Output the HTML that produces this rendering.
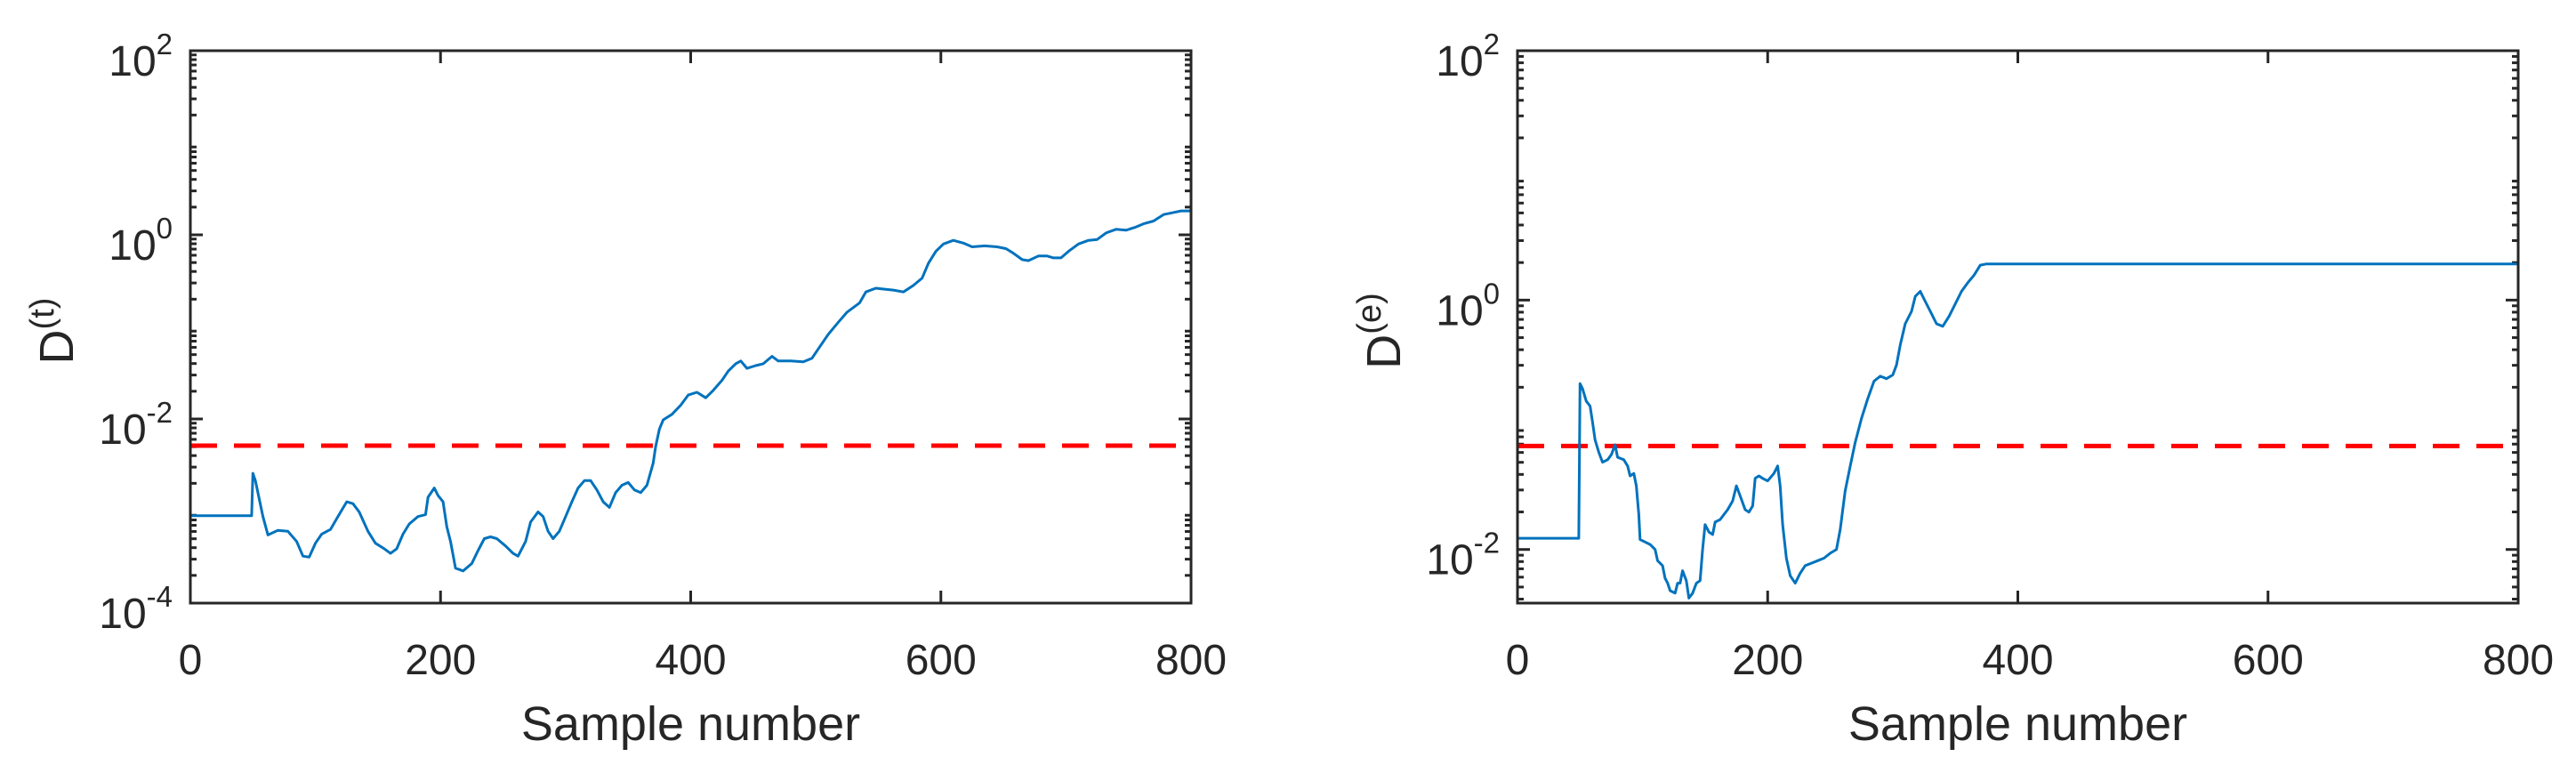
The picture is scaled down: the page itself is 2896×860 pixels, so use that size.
<!DOCTYPE html>
<html><head><meta charset="utf-8"><style>
html,body{margin:0;padding:0;background:#fff;}
svg{display:block;font-family:"Liberation Sans",Arial,sans-serif;}
</style></head><body>
<svg id="fig" width="2896" height="860" viewBox="0 0 2896 860" xmlns="http://www.w3.org/2000/svg"></svg>
<script>
// ---- data (log10 of D) ----
const xTicks = [0, 200, 400, 600, 800];
const leftYTicks = [-4, -2, 0, 2];
const rightYTicks = [-2, 0, 2];
const leftThresholdLog = -2.29;
const rightThresholdLog = -1.17;
const leftSamples = [0,49,50,52,58,62,70,78,85,90,95,100,105,112,118,125,130,135,142,148,155,160,165,170,175,182,188,190,195,198,202,205,208,212,218,225,230,235,240,245,252,258,262,268,272,278,282,286,290,295,300,305,310,315,320,325,330,335,340,345,350,355,360,365,370,372,375,378,385,392,398,405,412,418,425,430,436,440,445,452,458,465,470,480,490,497,502,510,518,525,535,540,548,555,562,570,578,585,590,596,602,610,618,625,635,645,652,658,665,670,678,685,690,696,702,710,718,725,732,740,748,755,762,770,778,785,792,800];
const leftLogD = [-3.05,-3.05,-2.59,-2.67,-3.06,-3.26,-3.21,-3.22,-3.33,-3.49,-3.50,-3.35,-3.25,-3.20,-3.06,-2.90,-2.92,-3.01,-3.22,-3.35,-3.41,-3.46,-3.41,-3.25,-3.14,-3.06,-3.04,-2.85,-2.75,-2.83,-2.90,-3.17,-3.33,-3.62,-3.65,-3.57,-3.43,-3.30,-3.28,-3.30,-3.38,-3.46,-3.49,-3.33,-3.12,-3.01,-3.06,-3.22,-3.30,-3.22,-3.06,-2.90,-2.75,-2.67,-2.67,-2.77,-2.90,-2.96,-2.80,-2.72,-2.69,-2.77,-2.80,-2.72,-2.48,-2.30,-2.11,-2.01,-1.95,-1.85,-1.74,-1.71,-1.77,-1.69,-1.58,-1.48,-1.40,-1.37,-1.45,-1.42,-1.40,-1.32,-1.37,-1.37,-1.38,-1.34,-1.24,-1.08,-0.95,-0.84,-0.74,-0.62,-0.58,-0.59,-0.60,-0.62,-0.55,-0.47,-0.31,-0.18,-0.10,-0.06,-0.09,-0.13,-0.12,-0.13,-0.15,-0.20,-0.27,-0.28,-0.23,-0.23,-0.25,-0.25,-0.18,-0.10,-0.06,-0.05,0.02,0.06,0.05,0.08,0.12,0.15,0.22,0.24,0.26,0.26];
const rightSamples = [0,49,50,52,55,58,60,62,65,68,72,75,78,80,85,88,90,93,95,97,98,102,106,110,112,116,118,120,122,126,128,130,132,135,137,140,143,146,148,150,153,156,158,162,168,172,175,178,182,185,188,190,193,196,200,205,208,210,212,215,218,222,226,230,235,240,245,250,255,258,262,266,270,275,280,285,290,295,300,303,306,310,315,318,322,325,330,335,340,345,350,355,360,365,370,375,800];
const rightLogD = [-1.91,-1.91,-0.67,-0.71,-0.81,-0.85,-0.98,-1.12,-1.22,-1.30,-1.28,-1.24,-1.16,-1.26,-1.28,-1.33,-1.41,-1.39,-1.49,-1.72,-1.92,-1.94,-1.96,-2.00,-2.09,-2.13,-2.23,-2.27,-2.33,-2.35,-2.27,-2.27,-2.17,-2.25,-2.39,-2.35,-2.27,-2.25,-2.00,-1.80,-1.86,-1.88,-1.78,-1.76,-1.68,-1.61,-1.49,-1.57,-1.68,-1.70,-1.65,-1.43,-1.41,-1.43,-1.45,-1.39,-1.33,-1.49,-1.80,-2.07,-2.21,-2.27,-2.19,-2.13,-2.11,-2.09,-2.07,-2.03,-2.00,-1.84,-1.53,-1.33,-1.14,-0.95,-0.79,-0.65,-0.61,-0.63,-0.60,-0.52,-0.36,-0.19,-0.09,0.03,0.07,0.01,-0.09,-0.19,-0.21,-0.13,-0.03,0.07,0.14,0.20,0.28,0.29,0.29];

const NS = "http://www.w3.org/2000/svg";
const svg = document.getElementById('fig');
function mk(tag, attrs, parent){
  const e = document.createElementNS(NS, tag);
  for (const k in attrs) e.setAttribute(k, attrs[k]);
  (parent||svg).appendChild(e);
  return e;
}

function drawPanel(cfg){
  const g = mk('g', {});
  
  
  const L=cfg.x0, R=cfg.x1, T=57, B=678;
  const xS = v => L + (v-0)/(800-0)*(R-L);
  const yS = lv => B - (lv-cfg.yMin)/(cfg.yMax-cfg.yMin)*(B-T);
  const clip = mk('clipPath', {id: cfg.name+'-clip'}, g);
  mk('rect', {x:L, y:T, width:R-L, height:B-T}, clip);
  // minor log ticks
  for (let d=Math.floor(cfg.yMin); d<cfg.yMax; d++){
    for (let m=2; m<10; m++){
      const lv = d + Math.log10(m);
      if (lv < cfg.yMin || lv > cfg.yMax) continue;
      const y = yS(lv);
      const t1 = mk('line', {x1:L, x2:L+7, y1:y, y2:y, stroke:'#262626', 'stroke-width':3}, g);
      
      
      const t2 = mk('line', {x1:R, x2:R-7, y1:y, y2:y, stroke:'#262626', 'stroke-width':3}, g);
      
      
    }
  }
  // y major ticks + labels
  cfg.yTicks.forEach(lv => {
    const y = yS(lv);
    const t1 = mk('line', {x1:L, x2:L+14, y1:y, y2:y, stroke:'#262626', 'stroke-width':3}, g);
    
    
    const t2 = mk('line', {x1:R, x2:R-14, y1:y, y2:y, stroke:'#262626', 'stroke-width':3}, g);
    
    
    const tx = mk('text', {x:L-20, y:y+28, 'text-anchor':'end', 'font-size':48, fill:'#262626'}, g);
    
    
    const a = mk('tspan', {}, tx); a.textContent = '10';
    const b = mk('tspan', {'font-size':33, dy:-24}, tx); b.textContent = String(lv);
  });
  // x ticks + labels
  xTicks.forEach(v => {
    const x = xS(v);
    const t1 = mk('line', {x1:x, x2:x, y1:B, y2:B-14, stroke:'#262626', 'stroke-width':3}, g);
    
    
    const t2 = mk('line', {x1:x, x2:x, y1:T, y2:T+14, stroke:'#262626', 'stroke-width':3}, g);
    
    
    const tx = mk('text', {x:x, y:758, 'text-anchor':'middle', 'font-size':48, fill:'#262626'}, g);
    
    
    tx.textContent = String(v);
  });
  // threshold
  const th = mk('line', {x1:L, x2:R, y1:yS(cfg.thr), y2:yS(cfg.thr), stroke:'#ff0000', 'stroke-width':5, 'stroke-dasharray':'30 19'}, g);
  
  
  // series
  const pts = cfg.xs.map((s,i)=> xS(s).toFixed(1)+','+yS(cfg.ys[i]).toFixed(1)).join(' ');
  const pl = mk('polyline', {points:pts, fill:'none', stroke:'#0072BD', 'stroke-width':3, 'stroke-linejoin':'round', 'clip-path':'url(#'+cfg.name+'-clip)'}, g);
  
  
  // frame
  const fr = mk('rect', {x:L, y:T, width:R-L, height:B-T, fill:'none', stroke:'#262626', 'stroke-width':3}, g);
  
  
  // x label
  const xl = mk('text', {x:(L+R)/2, y:832, 'text-anchor':'middle', 'font-size':54, fill:'#262626'}, g);
  
  
  xl.textContent = 'Sample number';
  // y label
  const yl = mk('text', {x:0, y:0, 'text-anchor':'middle', 'font-size':54, fill:'#262626', transform:'translate('+(cfg.ylx)+','+372+') rotate(-90)'}, g);
  
  
  const ya = mk('tspan', {}, yl); ya.textContent = 'D';
  const yb = mk('tspan', {'font-size':38, dy:-22}, yl); yb.textContent = '(' + cfg.sup + ')';
}

drawPanel({name:'left-panel', x0:214, x1:1339, yMin:-4, yMax:2, yTicks:leftYTicks, thr:leftThresholdLog, xs:leftSamples, ys:leftLogD, ylx:82, sup:'t'});
drawPanel({name:'right-panel', x0:1706, x1:2831, yMin:-2.43, yMax:2, yTicks:rightYTicks, thr:rightThresholdLog, xs:rightSamples, ys:rightLogD, ylx:1574, sup:'e'});
</script>
</body></html>
